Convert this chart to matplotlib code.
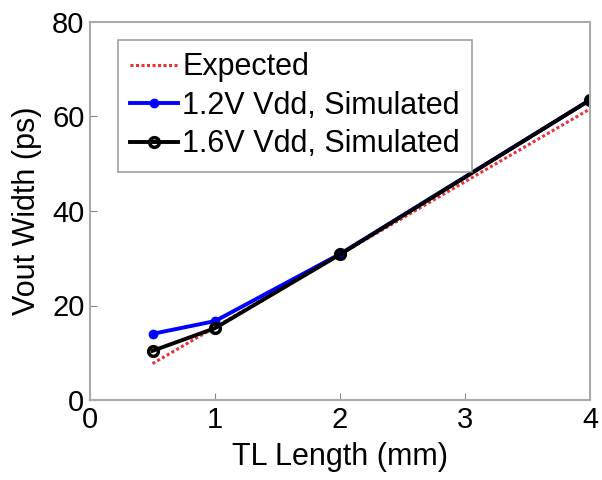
import matplotlib
matplotlib.use("Agg")
import matplotlib.pyplot as plt

plt.rcParams['font.family'] = ['Liberation Sans', 'DejaVu Sans']

tl_length = [0.5, 1, 2, 4]
expected = [7.7, 15.4, 30.8, 61.6]
sim_12v = [14.0, 16.7, 30.9, 63.5]
sim_16v = [10.4, 15.2, 30.8, 63.5]

fig = plt.figure(figsize=(6.02, 4.8), dpi=100)
ax = fig.add_axes([90 / 602, 80 / 480, 500 / 602, 378 / 480])

ax.plot(tl_length, expected, color='#e8323c', linestyle=(0, (1, 0.8)),
        linewidth=2.2, label='Expected')
ax.plot(tl_length, sim_12v, color='#0000ff', marker='o', markersize=6,
        linewidth=2.8, label='1.2V Vdd, Simulated')
ax.plot(tl_length, sim_16v, color='black', marker='o', markersize=7,
        markerfacecolor='none', markeredgewidth=2.5, linewidth=2.8,
        label='1.6V Vdd, Simulated')

ax.set_xlim(0, 4)
ax.set_ylim(0, 80)
ax.set_xticks([0, 1, 2, 3, 4])
ax.set_yticks([0, 20, 40, 60, 80])
ax.tick_params(labelsize=21, direction='in', length=5, color='#888888', pad=4)
for s in ax.spines.values():
    s.set_color('#aaaaaa')
    s.set_linewidth(1.5)

ax.set_xlabel('TL Length (mm)', fontsize=22, labelpad=6)
ax.set_ylabel('Vout Width (ps)', fontsize=22, labelpad=7)

leg = ax.legend(loc='upper left', bbox_to_anchor=(0.056, 0.952), fontsize=22,
                frameon=True, fancybox=False, handlelength=1.55,
                handletextpad=0.15, borderpad=0.4, labelspacing=0.28,
                borderaxespad=0)
leg.get_frame().set_edgecolor('#888888')
leg.get_frame().set_linewidth(1.2)

fig.savefig('out.png', dpi=100)
